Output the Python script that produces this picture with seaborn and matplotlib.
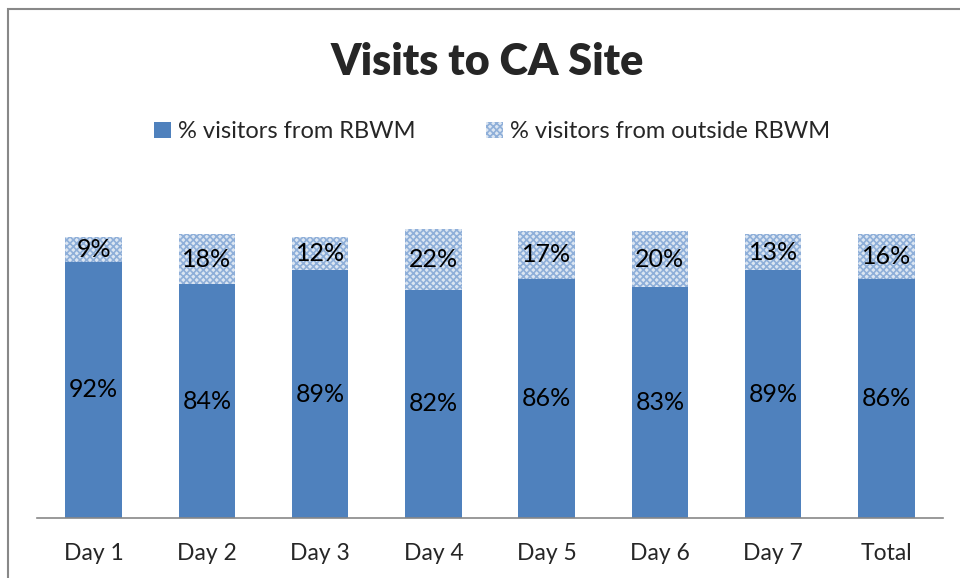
#!/usr/bin/env python3
from __future__ import annotations

import numpy as np
import pandas as pd
import seaborn as sns
from matplotlib import pyplot as plt
from matplotlib.patches import Patch, Rectangle

# Chart values.
days = ["Day 1", "Day 2", "Day 3", "Day 4", "Day 5", "Day 6", "Day 7", "Total"]
pct_rbwm = [92, 84, 89, 82, 86, 83, 89, 86]
pct_outside = [9, 18, 12, 22, 17, 20, 13, 16]

BLUE = "#4F81BD"
LIGHT = "#DCE6F2"
HATCH = "#8FAFD9"


def main() -> None:
    sns.set_style("white")
    plt.rcParams["font.family"] = ["Lato", "DejaVu Sans"]
    plt.rcParams["hatch.color"] = HATCH
    plt.rcParams["hatch.linewidth"] = 1.2

    df = pd.DataFrame({"day": days, "rbwm": pct_rbwm, "outside": pct_outside})
    df["total"] = df["rbwm"] + df["outside"]

    fig = plt.figure(figsize=(9.6, 5.78), dpi=100)
    ax = fig.add_axes([37 / 960, 60 / 578, 906 / 960, 334 / 578])

    # stacked look: draw the full height hatched, then the RBWM part over it
    sns.barplot(data=df, x="day", y="total", color=LIGHT, saturation=1,
                width=0.5, ax=ax, hatch="xxxxx", edgecolor=HATCH, linewidth=0)
    sns.barplot(data=df, x="day", y="rbwm", color=BLUE, saturation=1,
                width=0.5, ax=ax, linewidth=0)

    for i, row in df.iterrows():
        ax.text(i, row["rbwm"] / 2, f"{row['rbwm']}%", ha="center", va="center",
                fontsize=18, color="black")
        ax.text(i, row["rbwm"] + row["outside"] / 2, f"{row['outside']}%",
                ha="center", va="center", fontsize=18, color="black")

    ax.set_xlim(-0.5, len(days) - 0.5)
    ax.set_ylim(0, 120)
    ax.set_xlabel("")
    ax.set_ylabel("")
    ax.set_yticks([])
    ax.tick_params(axis="x", length=0, labelsize=16.5, pad=18)
    for side in ["top", "right", "left"]:
        ax.spines[side].set_visible(False)
    ax.spines["bottom"].set_color("#888888")
    ax.spines["bottom"].set_linewidth(1.2)

    fig.text(487 / 960, 1 - 62 / 578, "Visits to CA Site", ha="center",
             va="center", fontsize=31, fontweight="heavy")

    handles = [
        Patch(facecolor=BLUE, edgecolor="none", label="% visitors from RBWM"),
        Patch(facecolor=LIGHT, edgecolor=HATCH, hatch="xxxxx", linewidth=0,
              label="% visitors from outside RBWM"),
    ]
    fig.legend(handles=handles, loc="center", bbox_to_anchor=(492 / 960, 1 - 132 / 578),
               ncol=2, frameon=False, fontsize=17, handlelength=0.7,
               handleheight=0.7, handletextpad=0.3, columnspacing=3.0)

    # outer chart frame: only top and left edges show in the crop
    fig.add_artist(Rectangle((8 / 960, -0.5), 2, 0.5 + (1 - 9 / 578),
                             transform=fig.transFigure, fill=False,
                             edgecolor="#888888", linewidth=1.5))

    fig.savefig("out.png", dpi=100)
    plt.close(fig)


if __name__ == "__main__":
    main()
